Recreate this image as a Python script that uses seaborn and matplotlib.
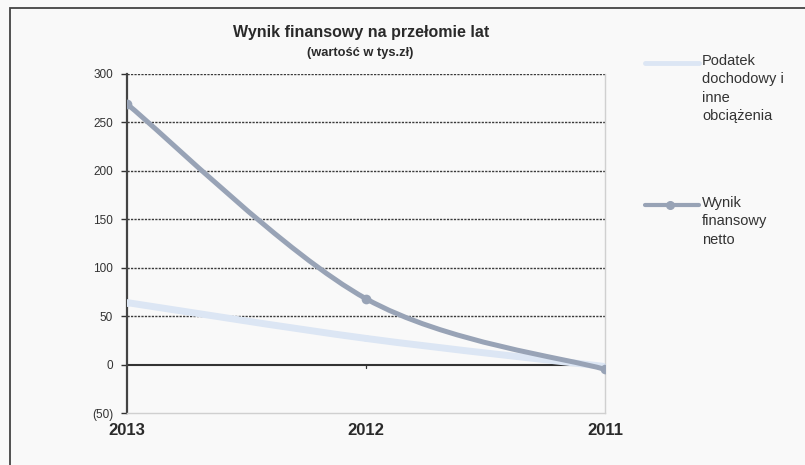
import matplotlib
matplotlib.use("Agg")
import matplotlib.pyplot as plt
import seaborn as sns
import pandas as pd
import numpy as np
from matplotlib.path import Path
from matplotlib.patches import PathPatch, Rectangle
from matplotlib.lines import Line2D

years = ["2013", "2012", "2011"]
podatek = [64, 27, -2]
wynik = [269, 68, -5]
y_ticks = [-50, 0, 50, 100, 150, 200, 250, 300]
y_labels = ["(50)", "0", "50", "100", "150", "200", "250", "300"]
name_podatek = "Podatek\ndochodowy i\ninne\nobciążenia"
name_wynik = "Wynik\nfinansowy\nnetto"

col_podatek = "#dce6f4"
col_wynik = "#98a3b6"
bg = "#f9f9f9"

sns.set_theme(style="white")
plt.rcParams["font.family"] = ["Liberation Sans", "DejaVu Sans"]

W, H = 805, 465
fig = plt.figure(figsize=(W / 100, H / 100), dpi=100)
fig.patch.set_facecolor(bg)
fig.patches.append(Rectangle((10 / W, -0.2), 1.0, 1.2 - 8 / H, transform=fig.transFigure,
                             fill=False, edgecolor="#444444", linewidth=1.3))
ax = fig.add_axes([127 / W, 1 - 413 / H, (605 - 127) / W, (413 - 74) / H])
ax.set_facecolor(bg)

df = pd.DataFrame({"pos": np.arange(len(years)), "year": years,
                   "podatek": podatek, "wynik": wynik})


def smooth_path(xs, ys):
    pts = list(zip(xs, ys))
    verts = [pts[0]]
    codes = [Path.MOVETO]
    n = len(pts)
    for i in range(n - 1):
        p0 = np.array(pts[max(i - 1, 0)], float)
        p1 = np.array(pts[i], float)
        p2 = np.array(pts[i + 1], float)
        p3 = np.array(pts[min(i + 2, n - 1)], float)
        c1 = p1 + (p2 - p0) / 6
        c2 = p2 - (p3 - p1) / 6
        verts += [tuple(c1), tuple(c2), tuple(p2)]
        codes += [Path.CURVE4] * 3
    return Path(verts, codes)


# grid
for v in [50, 100, 150, 200, 250, 300]:
    ax.axhline(v, color="#3a3a3a", linestyle=(0, (1.6, 0.9)), linewidth=1.0, zorder=1)
ax.axhline(0, color="#333333", linewidth=1.5, zorder=1)

for col, c, lw in [("podatek", col_podatek, 5), ("wynik", col_wynik, 3.6)]:
    ax.add_patch(PathPatch(smooth_path(df["pos"], df[col]), facecolor="none",
                           edgecolor=c, linewidth=lw, capstyle="round", zorder=3))

sns.lineplot(data=df, x="pos", y="podatek", ax=ax, linestyle="none", marker="o",
             markersize=5, color=col_podatek, markeredgewidth=0, zorder=4)
sns.lineplot(data=df, x="pos", y="wynik", ax=ax, linestyle="none", marker="o",
             markersize=7, color=col_wynik, markeredgewidth=0, zorder=5)

ax.set_xlim(0, len(years) - 1)
ax.set_ylim(-50, 300)
ax.set_yticks(y_ticks)
ax.set_yticklabels(y_labels, fontsize=8.5, color="#333333")
ax.set_xticks(df["pos"])
ax.set_xticklabels(years, fontsize=12, fontweight="bold", color="#2a2a2a")
ax.tick_params(axis="x", length=0, pad=7)
ax.tick_params(axis="y", length=4, width=1.0, color="#333333", left=True, pad=6)
ax.set_xlabel("")
ax.set_ylabel("")
ax.spines["top"].set_visible(False)
ax.spines["left"].set_color("#444444")
ax.spines["left"].set_linewidth(1.6)
ax.spines["right"].set_color("#d0d0d0")
ax.spines["right"].set_linewidth(1.0)
ax.spines["bottom"].set_color("#d0d0d0")
ax.spines["bottom"].set_linewidth(1.0)
ax.plot([1, 1], [0, -4], color="#333333", linewidth=0.9, clip_on=False, zorder=2)

fig.text(361 / W, 1 - 33 / H, "Wynik finansowy na przełomie lat", ha="center", va="center",
         fontsize=11.5, fontweight="bold", color="#2a2a2a")
fig.text(360 / W, 1 - 53 / H, "(wartość w tys.zł)", ha="center", va="center",
         fontsize=9.3, fontweight="bold", color="#2a2a2a")

# legend
fig.lines.append(Line2D([645 / W, 699 / W], [1 - 63 / H] * 2, transform=fig.transFigure,
                        color=col_podatek, linewidth=3.5))
fig.lines.append(Line2D([645 / W, 699 / W], [1 - 205 / H] * 2, transform=fig.transFigure,
                        color=col_wynik, linewidth=3))
fig.lines.append(Line2D([670 / W], [1 - 205 / H], transform=fig.transFigure,
                        color=col_wynik, marker="o", markersize=5.5, linestyle="none"))
fig.text(702 / W, 1 - 54 / H, name_podatek, ha="left", va="top", fontsize=10.5,
         color="#333333", linespacing=1.4)
fig.text(702 / W, 1 - 196 / H, name_wynik, ha="left", va="top", fontsize=10.5,
         color="#333333", linespacing=1.4)

fig.savefig("out.png", dpi=100, facecolor=fig.get_facecolor())
